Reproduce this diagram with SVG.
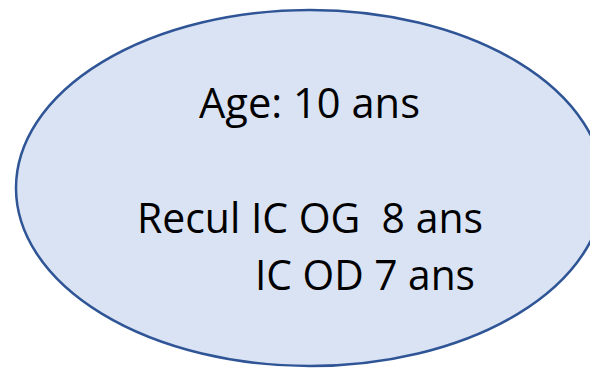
<svg xmlns="http://www.w3.org/2000/svg" width="590" height="370" viewBox="0 0 590 370">
<style>
.t{font-family:"Open Sans","Noto Sans","Liberation Sans",sans-serif;font-size:42px;fill:#000;white-space:pre}
</style>
<rect width="590" height="370" fill="#fff"/>
<g id="node1">
<ellipse cx="310" cy="188" rx="294" ry="178" fill="#DAE3F3" stroke="#2F5597" stroke-width="2.5"/>
<text class="t" x="199" y="118" textLength="221" lengthAdjust="spacingAndGlyphs">Age: 10 ans</text>
<text class="t" x="137" y="233" textLength="346" lengthAdjust="spacingAndGlyphs" xml:space="preserve">Recul IC OG  8 ans</text>
<text class="t" x="255" y="290" textLength="220" lengthAdjust="spacingAndGlyphs">IC OD 7 ans</text>
</g>
<g id="connectors"/>
</svg>
